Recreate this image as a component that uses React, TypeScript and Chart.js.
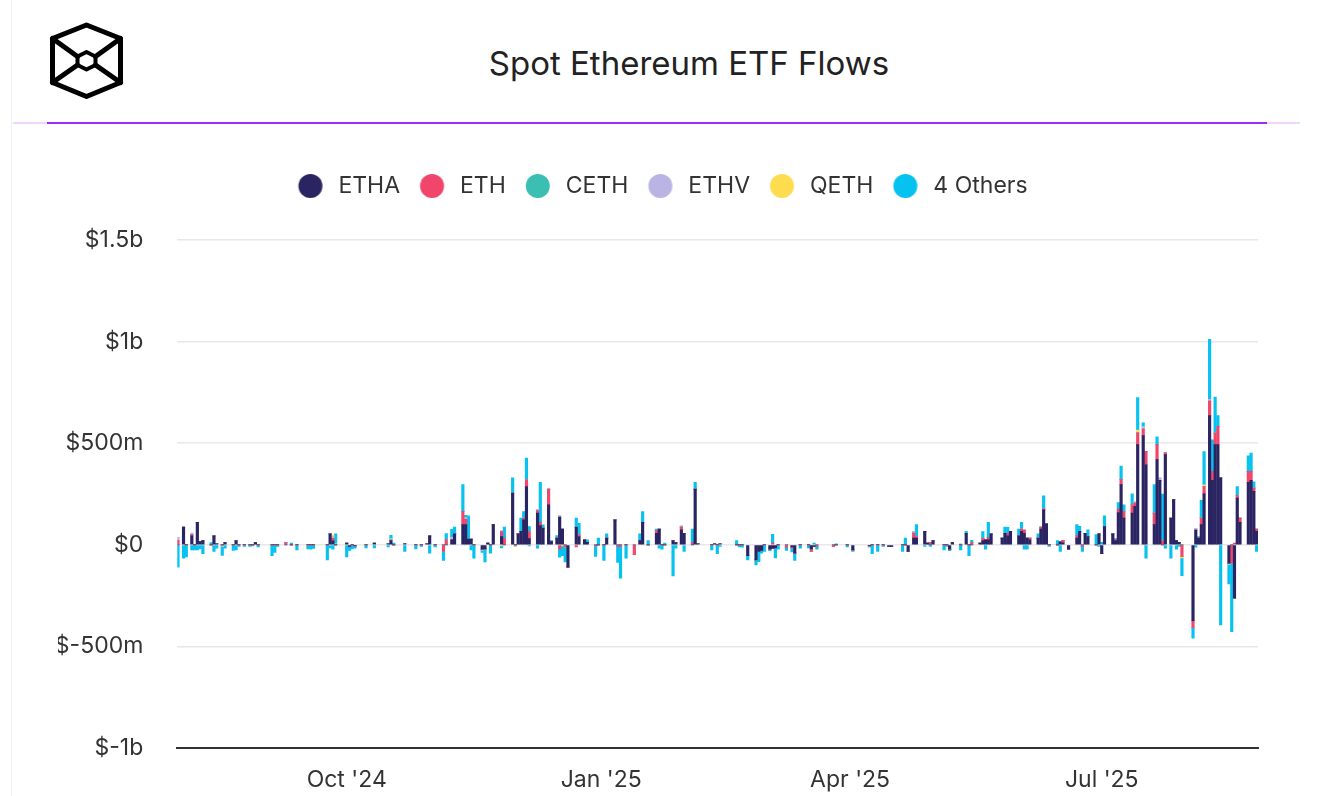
import React, { useEffect, useRef } from 'react';
import { Chart, registerables } from 'chart.js';

Chart.register(...registerables);

// ---- data (values in $m, x = days since 2024-08-01) ----
const SERIES_NAMES = ['ETHA', 'ETH', 'CETH', 'ETHV', 'QETH', '4 Others'];
const SERIES_COLORS = ['#2b2463', '#f2456b', '#3bbfb2', '#b9b4e4', '#fddc4f', '#06c2f0'];

const DAYS = [
  0, 2, 3, 5, 6, 7, 8, 9, 12, 13,
  14, 16, 17, 20, 21, 22, 24, 26, 27, 28,
  29, 34, 35, 36, 39, 41, 43, 47, 48, 49,
  54, 55, 56, 57, 61, 62, 63, 64, 68, 71,
  76, 77, 78, 82, 86, 88, 90, 91, 93, 96,
  97, 99, 100, 103, 104, 105, 106, 107, 110, 111,
  112, 113, 114, 117, 118, 121, 122, 123, 124, 125,
  126, 127, 130, 131, 132, 134, 135, 137, 138, 139,
  140, 141, 144, 145, 147, 148, 151, 152, 154, 155,
  158, 159, 160, 162, 165, 167, 168, 170, 173, 174,
  175, 176, 179, 180, 182, 183, 186, 187, 188, 193,
  194, 195, 196, 202, 203, 204, 206, 209, 210, 211,
  212, 214, 215, 216, 217, 220, 222, 223, 225, 228,
  229, 230, 231, 237, 238, 242, 244, 250, 251, 253,
  255, 257, 258, 262, 263, 264, 266, 267, 270, 271,
  272, 273, 277, 278, 279, 280, 283, 285, 286, 287,
  290, 291, 292, 293, 294, 298, 299, 300, 301, 304,
  305, 306, 307, 308, 311, 312, 313, 314, 315, 318,
  319, 320, 322, 325, 326, 327, 328, 329, 332, 333,
  334, 335, 338, 339, 340, 341, 342, 345, 346, 347,
  349, 350, 353, 354, 355, 356, 357, 359, 360, 361,
  362, 363, 367, 368, 369, 370, 371, 373, 374, 375,
  376, 377, 380, 381, 382, 383, 384, 387, 388, 389,
  390,
];

const ETHA = [
  0, 87, 0, 44, 0, 110, 16, 21, 0, 44,
  5, 0, 11, 0, 21, 0, 0, 0, 0, 11,
  0, 0, 0, 0, 0, 0, 0, 0, 0, 0,
  0, 54, 20, 0, 8, -8, 0, -5, 0, 8,
  5, 21, 0, 5, 0, 0, 5, 44, 0, 0,
  0, 25, 54, 99, 100, 28, 28, 0, -21, -20,
  8, 0, 99, 40, 0, 255, 0, 54, 66, 123,
  287, 30, 156, 94, 82, 197, 16, 33, 136, 77,
  0, -110, 87, 41, 25, 12, 0, 0, 0, 33,
  123, 0, 0, 0, 0, 21, 110, 0, 57, 77,
  0, 0, 21, 11, 74, 57, 0, 274, 5, 0,
  5, 0, 5, 0, 0, 0, -54, -74, -33, -28,
  0, -21, -18, -15, 0, 0, -10, -41, 0, 0,
  -20, -8, 0, 0, 0, 0, -25, -5, 0, 0,
  0, -8, -8, 0, 0, -33, 33, 33, 66, 8,
  0, 21, 0, 0, -21, 11, 0, 57, 0, 0,
  8, 21, 25, 25, 54, 33, 57, 44, 66, 44,
  66, 57, 33, 25, 33, 77, 172, 103, 0, 0,
  15, 10, -21, 33, 66, 0, 57, 41, 0, 54,
  -44, 90, 54, 21, 159, 296, 131, 156, 189, 493,
  537, 394, 99, 419, 317, 0, 444, 131, 222, 21,
  12, 0, -373, 73, 33, 99, 251, 636, 317, 493,
  493, 329, -90, 0, -263, 230, 110, 307, 317, 263,
  66,
];

const ETH = [
  21, 0, 0, 6, 0, 0, 0, 0, 0, 0,
  0, 0, 0, 0, 0, 0, 0, 0, 0, 0,
  0, 0, 0, 0, 11, 0, 0, 0, 0, 0,
  0, 0, 12, 0, 0, 0, 0, 0, 0, 0,
  0, 0, 0, 0, 0, 0, 0, 0, 0, -33,
  25, 0, 0, 66, 25, 0, 0, 0, 0, 0,
  0, 0, 0, 25, 30, 0, 0, 0, 0, 8,
  33, 35, 13, 16, 0, 77, 0, 0, -21, 0,
  -10, 0, -11, 8, 0, 0, -5, 0, 0, 0,
  0, -8, -8, 0, -49, 0, 0, 0, 13, 0,
  0, 0, 0, 0, 13, 0, 11, 0, 0, 0,
  0, 0, 0, 0, 0, 0, 0, 0, 0, 0,
  0, 0, 8, 0, 0, -13, -5, 0, 0, 0,
  -13, 0, -8, -8, 0, 0, 0, 0, 0, 0,
  0, 0, 0, 0, 0, 0, 25, 8, 0, 0,
  11, 0, 0, 0, 0, 0, 0, 0, 0, 11,
  0, 11, 0, 10, 0, 0, 0, 12, 0, 0,
  11, 15, 0, 8, 0, 10, 5, 0, 0, 0,
  0, 12, 0, 12, 0, -8, 0, 0, 0, 0,
  0, 0, 0, 5, 16, 25, 33, 41, 16, 58,
  33, 66, 57, 74, 0, 20, 8, 0, 0, 0,
  0, -57, -33, 0, 0, 33, 36, 71, 44, 57,
  90, 0, 0, -90, 8, 12, 21, 54, 44, 16,
  11,
];

const CETH = [
  0, 0, 0, 0, 0, 0, 0, 0, 0, 0,
  0, 0, 0, 0, 0, 0, 0, 0, 0, 0,
  0, 0, 0, 0, 0, 0, 0, 0, 0, 0,
  0, 0, 0, 0, 0, 0, 0, 0, 0, 0,
  0, 5, 0, 0, 0, 0, 0, 0, 0, 0,
  0, 0, 0, 0, 0, 0, 0, 0, 0, 0,
  0, 0, 0, 0, 0, 0, 0, 0, 0, 0,
  0, -5, 0, 0, 0, 0, 0, 0, 0, 0,
  0, 0, 0, 0, 0, 0, 0, 0, 0, 0,
  0, 0, 0, 0, 0, 0, 0, 0, 0, 0,
  0, 0, 0, 0, 0, 0, 0, 0, 0, 0,
  0, 0, 0, 0, 0, 0, 0, 0, 0, 0,
  0, 0, 0, 0, 0, 0, 0, 0, 0, 0,
  0, 0, 0, 0, 0, 0, 0, 0, 0, 0,
  0, 0, 0, 0, 0, 0, 0, 0, 0, 0,
  0, 0, 0, 0, 0, 0, 0, 0, 0, 0,
  0, 0, 0, 0, 0, 0, 0, 0, 0, 0,
  0, 0, 0, 0, 0, 0, 0, 0, 0, 0,
  0, 0, 0, 0, 0, 0, 0, 0, 0, 0,
  0, 0, 0, 0, 0, 0, 0, 0, 0, 0,
  0, 0, 0, 0, 0, 0, 0, 0, 0, 0,
  -3, 0, 0, 0, 0, 0, 0, 0, 0, 0,
  0, 0, 0, 0, 0, 0, 0, 0, 0, 0,
  0,
];

const ETHV = [
  16, 0, 0, 8, 0, 0, 0, 0, 0, 0,
  0, -8, 0, 0, 0, 0, 0, 0, 0, 0,
  0, 0, 0, 0, 0, 0, 0, 0, 0, 0,
  0, 0, 8, 0, 0, 0, 0, 0, 0, 0,
  0, 5, 0, 0, 0, 0, 0, 0, 0, 0,
  0, 10, 0, 0, 8, 0, 0, 0, -5, 0,
  0, 0, 0, 5, 0, 0, 0, 0, 0, 0,
  0, 0, 5, 0, 0, 0, 0, 0, 8, 0,
  0, 0, 0, 0, 0, 0, 0, 0, 0, 0,
  0, 0, 0, 0, 0, 0, 0, 0, 0, 0,
  0, 0, 0, 0, 5, 0, 0, 0, 0, 0,
  0, 0, 0, 0, 0, 0, 0, 0, 0, 0,
  0, 0, 0, 0, 0, 0, 0, 0, 0, 0,
  0, 0, 0, 0, 0, 0, 0, -5, 0, 0,
  0, 0, 0, 0, 0, 0, 8, 0, 0, 0,
  0, 0, 0, 0, 0, 0, 5, 0, 0, 0,
  0, 0, 0, 0, 0, 0, 0, 0, 0, 0,
  0, 0, 0, 0, 0, 0, 0, 0, 0, 0,
  0, 0, 0, 0, 0, 0, 0, 0, 0, 0,
  0, 0, 0, 0, 0, 0, 0, 0, 8, 0,
  12, 0, 0, 0, 11, 0, 0, 0, 0, 0,
  0, 0, 0, 8, 0, 0, 0, 8, 0, 0,
  0, 0, -6, 0, 0, 0, 0, 0, 0, 0,
  0,
];

const QETH = [
  0, 0, 0, 0, 0, 0, 0, 0, 0, 0,
  0, 0, 0, 0, 0, 0, 0, 0, 0, 0,
  0, 0, 0, 0, 0, 0, 0, 0, 0, 0,
  0, 0, 8, 5, 0, 0, 0, 0, 0, 0,
  0, 0, 0, 0, 0, 0, 0, 0, 0, 0,
  0, 0, 0, 0, 0, 0, 0, 0, 0, 0,
  0, 0, 0, -5, 0, 0, -8, 0, 0, 0,
  0, 0, 0, 0, 0, 0, 0, 0, 0, -5,
  0, 0, 0, 0, 0, 0, 0, 0, 0, 0,
  0, 0, 0, 0, 0, 0, 0, 0, 0, 0,
  0, 0, 0, 0, 0, 0, 0, 0, 0, 0,
  0, 0, 0, 0, 0, 0, 0, 0, 0, 0,
  0, 0, 0, 0, 0, 0, 0, 0, 0, 0,
  0, 0, 0, 0, 0, 0, 0, 0, 0, 0,
  0, 0, 0, 0, 0, 0, 0, 0, 0, 0,
  0, 0, 0, 0, 0, 0, 0, 0, 0, 0,
  0, 0, 0, 0, 0, 0, 0, 0, 0, 0,
  0, 0, 0, 0, 0, 0, 0, 0, 0, 0,
  0, 0, 0, 0, 0, 0, 0, 0, 0, 0,
  0, 0, 0, 0, 0, 0, 0, 0, 0, 13,
  0, 0, 0, 0, 0, 0, 0, 0, 0, 0,
  0, -8, 0, 0, 0, 0, 8, 0, 0, 0,
  0, 0, 0, 0, 0, 0, 0, 0, 0, 0,
  0,
];

const OTHERS = [
  -110, -66, -60, -25, -25, -25, -20, -44, 11, -33,
  -16, -44, -16, -28, -25, -8, -8, -8, -5, 0,
  -10, -54, -38, -8, 0, 8, -25, -20, -21, -18,
  -74, -15, -21, 49, -60, -20, -20, -12, -15, -15,
  -10, 15, 8, -33, -20, -8, 0, -41, -10, -44,
  30, 41, 33, 131, 12, 115, -25, -66, -12, -64,
  0, -41, 0, -10, 57, 74, 0, 0, 66, 33,
  107, 25, -16, 197, 16, 0, 5, 12, -40, -49,
  -74, 0, 44, 57, 0, 12, -52, 33, -77, 21,
  0, -79, -156, -66, 0, 33, 54, 21, 7, -16,
  -21, 8, -153, -16, 0, -33, 66, 33, 0, -25,
  0, -44, -8, 21, -10, -12, -20, -25, -50, -13,
  -33, -8, 44, -50, -21, -15, -20, -36, -16, -15,
  0, 8, -13, 0, 5, -10, -8, 0, -44, -33,
  -8, 0, 0, -33, 33, 0, 0, 58, -8, 0,
  -8, 0, -25, -8, -8, 0, -25, 9, -54, 11,
  0, 33, -21, 75, 0, 0, 30, 30, 0, 33,
  33, -21, -21, 0, 21, 0, 64, 0, -8, 21,
  -33, 0, 0, 54, 25, -25, 0, 33, 50, -8,
  12, 53, 0, 5, 33, 66, 33, 54, 0, 160,
  18, -66, 140, 38, 0, 230, -16, -66, 0, -21,
  -5, -87, -54, -12, 8, 87, 164, 296, 156, 177,
  53, -394, -97, -337, 0, 45, 0, 77, 90, 31,
  -33,
];

const Y_TICKS = [-1000, -500, 0, 500, 1000, 1500];
const X_TICK_DAYS = [61, 153, 243, 334];
const X_TICK_LABELS = ["Oct '24", "Jan '25", "Apr '25", "Jul '25"];

const FONT = 'Inter, "Noto Sans", sans-serif';
const LEGEND_GAP = 32.5;

function fmtMoney(v: number): string {
  if (v === 0) return '$0';
  if (Math.abs(v) >= 1000) return '$' + v / 1000 + 'b';
  return '$' + v + 'm';
}

function makeDot(color: string): HTMLCanvasElement {
  const c = document.createElement('canvas');
  c.width = 54;
  c.height = 28;
  const g = c.getContext('2d');
  if (g) {
    g.fillStyle = color;
    g.beginPath();
    g.arc(29.75, 14, 12, 0, Math.PI * 2);
    g.fill();
  }
  return c;
}

const legendGapPlugin = {
  id: 'legendGap',
  beforeLayout(chart: any) {
    const lg = chart.legend;
    if (lg && !lg.__gapPatched) {
      const fit = lg.fit.bind(lg);
      lg.fit = () => {
        fit();
        lg.height += LEGEND_GAP;
      };
      lg.__gapPatched = true;
    }
  },
};

function FlowsChart() {
  const ref = useRef<HTMLCanvasElement | null>(null);

  useEffect(() => {
    if (!ref.current) return;
    const seriesValues = [ETHA, ETH, CETH, ETHV, QETH, OTHERS];
    const dots = SERIES_COLORS.map(makeDot);
    const datasets = SERIES_NAMES.map((name, si) => ({
      label: name,
      data: DAYS.map((d, i) => ({ x: d, y: seriesValues[si][i] })),
      backgroundColor: SERIES_COLORS[si],
      borderWidth: 0,
      barThickness: 2.5,
    }));

    const chart = new Chart(ref.current, {
      type: 'bar',
      data: { datasets: datasets as any },
      plugins: [legendGapPlugin as any],
      options: {
        animation: false,
        responsive: true,
        maintainAspectRatio: false,
        layout: { padding: { left: 58, right: 64, top: 24.5, bottom: 0 } },
        plugins: {
          tooltip: { enabled: false },
          legend: {
            position: 'top',
            align: 'center',
            onClick: () => {},
            labels: {
              usePointStyle: true,
              pointStyleWidth: 38.5,
              padding: 10,
              color: '#333333',
              font: { size: 23, family: FONT },
              generateLabels: (c: any) => {
                const items = (Chart.defaults.plugins.legend.labels as any).generateLabels(c);
                items.forEach((it: any, i: number) => {
                  it.pointStyle = dots[i];
                });
                return items;
              },
            },
          },
        },
        scales: {
          x: {
            type: 'linear',
            stacked: true,
            offset: false,
            min: -0.25,
            max: 390.5,
            grid: { display: false, drawTicks: false },
            border: { display: true, color: '#333333', width: 2 },
            afterBuildTicks: (scale: any) => {
              scale.ticks = X_TICK_DAYS.map((v) => ({ value: v }));
            },
            afterFit: (scale: any) => {
              scale.height = 48;
            },
            ticks: {
              autoSkip: false,
              maxRotation: 0,
              padding: 18,
              color: '#333333',
              font: { size: 23, family: FONT },
              callback: (v: any) => {
                const i = X_TICK_DAYS.indexOf(Number(v));
                return i >= 0 ? X_TICK_LABELS[i] : '';
              },
            },
          },
          y: {
            type: 'linear',
            stacked: true,
            min: -1000,
            max: 1500,
            border: { display: false },
            grid: {
              drawTicks: false,
              lineWidth: 1.5,
              color: (ctx: any) => (ctx.tick && ctx.tick.value === -1000 ? '#333333' : '#e8e8e8'),
            },
            afterBuildTicks: (scale: any) => {
              scale.ticks = Y_TICKS.map((v) => ({ value: v }));
            },
            afterFit: (scale: any) => {
              scale.width = 119.3;
            },
            ticks: {
              padding: 34,
              color: '#333333',
              font: { size: 23, family: FONT },
              callback: (v: any) => fmtMoney(Number(v)),
            },
          },
        },
      } as any,
    });

    return () => {
      chart.destroy();
    };
  }, []);

  return <canvas ref={ref} />;
}

function Logo() {
  return (
    <svg
      width={90}
      height={90}
      viewBox="40 15 90 90"
      style={{ position: 'absolute', left: 40, top: 15 }}
    >
      <g fill="none" stroke="#000" strokeWidth={5} strokeLinejoin="round" strokeLinecap="round">
        <polygon points="86.5,25 120.5,38.5 120.5,82.5 86.5,96.5 52.5,82.5 52.5,38.5" />
        <line x1={52.5} y1={38.5} x2={77.5} y2={56.5} />
        <line x1={120.5} y1={38.5} x2={95.5} y2={56.5} />
        <line x1={52.5} y1={82.5} x2={77.5} y2={65} />
        <line x1={120.5} y1={82.5} x2={95.5} y2={65} />
      </g>
      <polygon
        points="86.5,52 95.5,56.5 95.5,65 86.5,69.5 77.5,65 77.5,56.5"
        fill="none"
        stroke="#000"
        strokeWidth={4}
        strokeLinejoin="round"
      />
    </svg>
  );
}

export default function App() {
  return (
    <div
      style={{
        position: 'absolute',
        left: 0,
        top: 0,
        width: 1322,
        height: 796,
        background: '#ffffff',
        overflow: 'hidden',
        fontFamily: FONT,
      }}
    >
      <div style={{ position: 'absolute', left: 11, top: 0, width: 1, height: 796, background: '#efefef' }} />
      <Logo />
      <div
        style={{
          position: 'absolute',
          left: 689,
          top: 63,
          transform: 'translate(-50%, -50%)',
          whiteSpace: 'nowrap',
          fontSize: 33,
          lineHeight: 1,
          color: '#222222',
          fontWeight: 400,
        }}
      >
        Spot Ethereum ETF Flows
      </div>
      <div style={{ position: 'absolute', left: 13, top: 122, width: 1287, height: 2, background: '#eed6fd' }} />
      <div style={{ position: 'absolute', left: 47, top: 122, width: 1220, height: 2, background: '#a02af5' }} />
      <div style={{ position: 'absolute', left: 0, top: 140, width: 1322, height: 656 }}>
        <FlowsChart />
      </div>
    </div>
  );
}
